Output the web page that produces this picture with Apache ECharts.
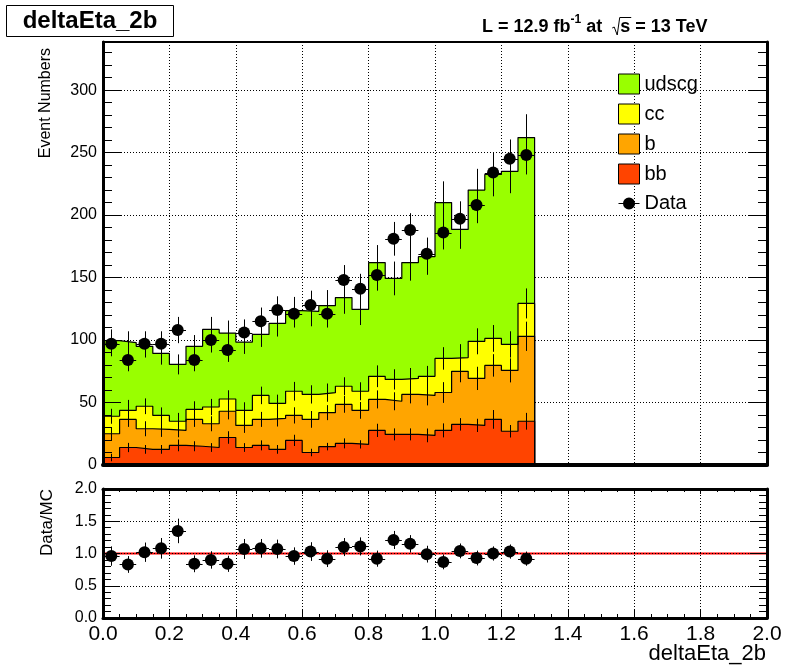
<!DOCTYPE html>
<html><head><meta charset="utf-8">
<script src="https://cdn.jsdelivr.net/npm/echarts@6/dist/echarts.min.js"></script>
<style>html,body{margin:0;padding:0;background:#fff}#c{width:798px;height:669px}</style>
</head><body><div id="c"></div>
<script>
// ---- data ----
const binWidth = 0.05;               // deltaEta_2b bin width, axis 0..2
const xTickLabels = ['0.0','0.2','0.4','0.6','0.8','1.0','1.2','1.4','1.6','1.8','2.0'];
const bbVals    = [6,14,12.5,12.5,15.7,15,14,22,14,15.7,12.5,19.7,10,14.7,17.3,16.5,27.7,24.5,24.5,23.7,27.7,32.5,31.7,36.5,27,35];
const bVals     = [19,22.5,16.5,16,12,21.5,19,21,17.7,20.8,24.8,20,26.5,27.2,31.2,27.2,24.8,26.5,32,32,30.3,42.5,37.6,43.2,48.7,68];
const ccVals    = [14,7.2,18,11.2,7.3,8,13.4,9.8,12,19.2,12,19.3,20,16,14.5,15.3,18.5,17.5,12.8,15.3,27.3,11,29.7,21.6,20.8,26.3];
const udscgVals = [60.5,54.3,48,49.6,45.5,50.5,62.1,52.8,54.7,48.8,64,64.5,66.5,69.6,71,65.5,91,80.8,92.7,95.7,124.7,102.5,121,131.2,138.5,132.7];
// MC error bars drawn on top of each stacked layer
const errBB    = [3,3.7,3.5,3.5,4.7,4,3.5,5,3.5,4,3.5,4.5,3,3,4,3.3,5.3,4.8,4.8,5.5,5.6,5,5.3,7.5,5,6.7];
const errB     = [5,6,6,6,5.5,6,6,6.5,6,6,6.5,6.5,6.7,6,6.7,6.7,7.2,7.2,7.2,8,8.3,8.8,9.3,9,9.6,11.7];
const errCC    = [6,8.4,6.3,6.4,6.7,6.5,6.5,7,6.5,7,7,7.5,7.3,7.3,7.2,7.2,8.7,8.1,8.3,8.3,9,10.7,10.4,10.7,10.5,12];
const errUdscg = [9,9,9,9,8,9,10,10,9.5,10,10.5,11,12,12.5,13,12.5,14,13.5,14.5,14.5,17,15.5,17,17.5,17.5,18.7];
const dataCounts = [97,84,97,97,108,84,100,92,106,115,124,121,128,121,148,141,152,181,188,169,186,197,208,234,245,248];
const dataErr    = [10,9,10,10,10.5,9,10,9.5,10.5,11,11,11,11.5,11,12,12,12.5,13.5,13.5,13,13.5,14,14.5,15.5,15.5,15.5];
const ratioVals  = [0.96,0.83,1.02,1.08,1.35,0.84,0.90,0.84,1.07,1.08,1.07,0.96,1.03,0.92,1.10,1.11,0.92,1.21,1.15,0.99,0.87,1.04,0.93,1.00,1.03,0.92];
const ratioErr   = [0.15,0.13,0.15,0.16,0.19,0.13,0.135,0.125,0.155,0.145,0.145,0.135,0.145,0.13,0.14,0.14,0.125,0.14,0.135,0.13,0.115,0.115,0.115,0.11,0.11,0.11];
const layerNames  = ['bb','b','cc','udscg'];
const layerColors = ['#ff4400','#ffa500','#ffff00','#99ff00'];
const YMAX = 338.5;

// ---- build ----
const layers = [bbVals, bVals, ccVals, udscgVals];
const layerErr = [errBB, errB, errCC, errUdscg];
const nB = bbVals.length;
const xEnd = 2.0;
function stepData(vals) {
  const d = vals.map((v, i) => [i * binWidth, v]);
  d.push([nB * binWidth, 0]);
  d.push([xEnd, 0]);
  return d;
}
// cumulative stack tops (bb, bb+b, bb+b+cc, total)
const cum = [];
let run = new Array(nB).fill(0);
layers.forEach(l => { run = run.map((r, i) => r + l[i]); cum.push(run.slice()); });

const FONT = 'Liberation Sans';
const dotted = { show: true, lineStyle: { color: '#000', type: [1, 2], width: 1 } };
const blk = '#000';

function errRender(params, api) {
  const x = api.value(0), y = api.value(1), e = api.value(2);
  const p1 = api.coord([x, y - e]), p2 = api.coord([x, y + e]);
  const px = Math.round(p1[0]) + 0.5;
  return { type: 'line', shape: { x1: px, y1: p1[1], x2: px, y2: p2[1] }, style: { stroke: '#000', lineWidth: 1 } };
}
function dataRender(params, api) {
  const x = api.value(0), y = api.value(1), e = api.value(2);
  const c = api.coord([x, y]);
  const t = api.coord([x, y + e]), b = api.coord([x, y - e]);
  const l = api.coord([x - binWidth / 2, y]), r = api.coord([x + binWidth / 2, y]);
  const px = Math.round(c[0]) + 0.5, py = Math.round(c[1]) + 0.5;
  return { type: 'group', children: [
    { type: 'line', shape: { x1: px, y1: t[1], x2: px, y2: b[1] }, style: { stroke: '#000', lineWidth: 1 } },
    { type: 'line', shape: { x1: l[0], y1: py, x2: r[0], y2: py }, style: { stroke: '#000', lineWidth: 1 } },
    { type: 'circle', shape: { cx: c[0], cy: c[1], r: 6 }, style: { fill: '#000' } }
  ] };
}

const series = [];
// draw from the top of the stack downward so lower layers paint over
for (let k = 3; k >= 0; k--) {
  series.push({
    name: layerNames[k], type: 'line', step: 'end', xAxisIndex: 0, yAxisIndex: 0,
    data: stepData(cum[k]), symbol: 'none', showSymbol: false,
    itemStyle: { color: layerColors[k] },
    lineStyle: { color: '#000', width: 1.2 },
    areaStyle: { color: layerColors[k], opacity: 1, origin: 'start' },
    z: 2, silent: true
  });
}
layers.forEach((vals, k) => {
  series.push({
    type: 'custom', xAxisIndex: 0, yAxisIndex: 0, renderItem: errRender, clip: true, z: 3, silent: true,
    data: cum[k].map((t, i) => [(i + 0.5) * binWidth, t, layerErr[k][i]])
  });
});
series.push({
  name: 'Data', type: 'custom', xAxisIndex: 0, yAxisIndex: 0, renderItem: dataRender, z: 5, silent: true,
  itemStyle: { color: '#000' },
  data: dataCounts.map((v, i) => [(i + 0.5) * binWidth, v, dataErr[i]])
});
series.push({
  type: 'line', xAxisIndex: 3, yAxisIndex: 5, data: [[0, 1], [xEnd, 1]], symbol: 'none',
  lineStyle: { color: '#ff0000', width: 2 }, z: 3, silent: true
});
series.push({
  type: 'custom', xAxisIndex: 3, yAxisIndex: 5, renderItem: dataRender, z: 5, silent: true,
  data: ratioVals.map((v, i) => [(i + 0.5) * binWidth, v, ratioErr[i]])
});

function xTickAxis(grid, pos, len, labels, split, lw) {
  return {
    gridIndex: grid, type: 'value', min: 0, max: 2, interval: 0.2, position: pos,
    axisLine: { show: true, onZero: false, lineStyle: { color: blk, width: lw } },
    axisTick: { show: len > 0, inside: true, length: len, lineStyle: { color: blk, width: 1 } },
    minorTick: { show: len > 0, splitNumber: 4, length: Math.round(len / 2), lineStyle: { color: blk, width: 1 } },
    axisLabel: labels ? { show: true, fontSize: 21, fontFamily: FONT, color: '#000', margin: 6,
      showMinLabel: true, showMaxLabel: true,
      formatter: v => xTickLabels[Math.round(v / 0.2)] } : { show: false },
    splitLine: split ? dotted : { show: false },
    z: 10
  };
}
function yAxisDef(grid, pos, min, max, interval, len, opts) {
  return Object.assign({
    gridIndex: grid, type: 'value', min: min, max: max, interval: interval, position: pos,
    axisLine: { show: false, onZero: false },
    axisTick: { show: true, inside: true, length: len, lineStyle: { color: blk, width: 1 } },
    axisLabel: { show: false }, splitLine: { show: false }, z: 10
  }, opts || {});
}

const option = {
  animation: false,
  backgroundColor: '#fff',
  textStyle: { fontFamily: FONT },
  grid: [
    { left: 103, top: 42, width: 664, height: 423 },
    { left: 103, top: 489, width: 664, height: 129 }
  ],
  xAxis: [
    { gridIndex: 0, type: 'value', min: 0, max: 2, interval: 0.2, axisLine: { show: false, onZero: false },
      axisTick: { show: false }, axisLabel: { show: false }, splitLine: dotted, z: 0 },
    xTickAxis(0, 'bottom', 0, false, false, 4),
    xTickAxis(0, 'top', 0, false, false, 2),
    xTickAxis(1, 'bottom', 8, true, true, 3),
    xTickAxis(1, 'top', 5, false, false, 3)
  ],
  yAxis: [
    { gridIndex: 0, type: 'value', min: 0, max: YMAX, interval: 50, axisLine: { show: false, onZero: false },
      axisTick: { show: false }, axisLabel: { show: false }, splitLine: dotted, z: 0 },
    yAxisDef(0, 'left', 0, YMAX, 50, 18, {
      axisLine: { show: true, onZero: false, lineStyle: { color: blk, width: 3 } },
      axisLabel: { show: true, fontSize: 16, fontFamily: FONT, color: '#000', margin: 6, showMaxLabel: false,
        formatter: v => (v % 50 === 0 ? String(v) : '') } }),
    yAxisDef(0, 'left', 0, YMAX, 10, 9),
    yAxisDef(0, 'right', 0, YMAX, 50, 18, {
      axisLine: { show: true, onZero: false, lineStyle: { color: blk, width: 3 } } }),
    yAxisDef(0, 'right', 0, YMAX, 10, 9),
    yAxisDef(1, 'left', 0, 2, 0.5, 17, {
      axisLine: { show: true, onZero: false, lineStyle: { color: blk, width: 3 } },
      minorTick: { show: true, splitNumber: 5, length: 8, lineStyle: { color: blk, width: 1 } },
      axisLabel: { show: true, fontSize: 16, fontFamily: FONT, color: '#000', margin: 6,
        showMinLabel: true, showMaxLabel: true, formatter: v => v.toFixed(1) },
      splitLine: dotted }),
    yAxisDef(1, 'right', 0, 2, 0.5, 17, {
      axisLine: { show: true, onZero: false, lineStyle: { color: blk, width: 3 } },
      minorTick: { show: true, splitNumber: 5, length: 8, lineStyle: { color: blk, width: 1 } } })
  ],
  legend: {
    orient: 'vertical', left: 613, top: 68.5, itemWidth: 21, itemHeight: 20, itemGap: 9,
    selectedMode: false,
    textStyle: { fontSize: 20, fontFamily: FONT, color: '#000' },
    data: [
      { name: 'udscg', icon: 'rect', itemStyle: { color: layerColors[3], borderColor: '#000', borderWidth: 1 } },
      { name: 'cc', icon: 'rect', itemStyle: { color: layerColors[2], borderColor: '#000', borderWidth: 1 } },
      { name: 'b', icon: 'rect', itemStyle: { color: layerColors[1], borderColor: '#000', borderWidth: 1 } },
      { name: 'bb', icon: 'rect', itemStyle: { color: layerColors[0], borderColor: '#000', borderWidth: 1 } },
      { name: 'Data', icon: 'path://M0,9.5H21V10.5H0Z M4.5,10A6,6 0 1 1 16.5,10A6,6 0 1 1 4.5,10Z',
        itemStyle: { color: '#000', borderWidth: 0 } }
    ]
  },
  series: series
};

// lumi label pieces
const ctx = document.createElement('canvas').getContext('2d');
function tw(t, font) { ctx.font = font; return ctx.measureText(t).width; }
const mainFont = 'bold 18px "Liberation Sans"';
const supFont = 'bold 12px "Liberation Sans"';
let lx = 482; const lyc = 27;
const gr = [];
gr.push({ type: 'rect', shape: { x: 6.5, y: 5.5, width: 167, height: 31 }, style: { fill: '#fff', stroke: '#000', lineWidth: 1 }, z: 10 });
gr.push({ type: 'text', x: 90, y: 21, style: { text: 'deltaEta_2b', font: 'bold 24px "Liberation Sans"', align: 'center', verticalAlign: 'middle', fill: '#000' }, z: 11 });
function piece(t, font, dy) {
  gr.push({ type: 'text', x: lx, y: lyc + dy, style: { text: t, font: font, align: 'left', verticalAlign: 'middle', fill: '#000' }, z: 11 });
  lx += tw(t, font);
}
piece('L = 12.9 fb', mainFont, 0);
piece('-1', supFont, -7);
piece(' at  ', mainFont, 0);
const rx = lx;
lx += 8;
piece('s', mainFont, 0);
const sx1 = lx;
gr.push({ type: 'polyline', shape: { points: [[rx, lyc + 1], [rx + 2, lyc], [rx + 5, lyc + 8], [rx + 7.5, lyc - 9.5], [sx1 + 1, lyc - 9.5]] },
  style: { stroke: '#000', lineWidth: 1, fill: null }, z: 11 });
piece(' = 13 TeV', mainFont, 0);
// axis titles
gr.push({ type: 'text', x: 46, y: 48, rotation: Math.PI / 2, style: { text: 'Event Numbers', font: '16px "Liberation Sans"', align: 'right', verticalAlign: 'middle', fill: '#000' }, z: 11 });
gr.push({ type: 'text', x: 47, y: 489, rotation: Math.PI / 2, style: { text: 'Data/MC', font: '17px "Liberation Sans"', align: 'right', verticalAlign: 'middle', fill: '#000' }, z: 11 });
gr.push({ type: 'text', x: 766, y: 654, style: { text: 'deltaEta_2b', font: '22px "Liberation Sans"', align: 'right', verticalAlign: 'middle', fill: '#000' }, z: 11 });
option.graphic = gr;

const chart = echarts.init(document.getElementById('c'), null, { renderer: 'canvas' });
chart.setOption(option);
</script>
</body></html>
